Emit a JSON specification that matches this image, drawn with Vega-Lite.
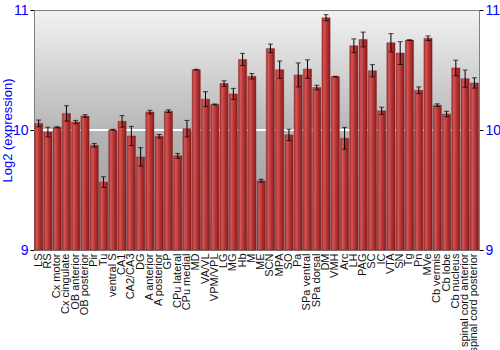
{
  "$schema": "https://vega.github.io/schema/vega-lite/v6.json",
  "width": 445,
  "height": 240,
  "autosize": {"type": "none"},
  "padding": {"left": 34, "top": 10, "right": 21, "bottom": 100},
  "background": "white",
  "config": {
    "font": "Liberation Sans",
    "view": {
      "stroke": "#808080",
      "strokeWidth": 1,
      "fill": {"gradient": "linear", "x1": 0, "y1": 0, "x2": 0, "y2": 1,
        "stops": [{"offset": 0, "color": "#f2f2f2"}, {"offset": 0.5, "color": "#b6b6b6"}, {"offset": 1, "color": "#969696"}]}
    }
  },
  "data": {"values": [
    {"region": "LS", "v": 10.055, "err": 0.028},
    {"region": "RS", "v": 9.983, "err": 0.04},
    {"region": "Cx motor", "v": 10.022, "err": 0.005},
    {"region": "Cx cingulate", "v": 10.138, "err": 0.064},
    {"region": "OB anterior", "v": 10.066, "err": 0.014},
    {"region": "OB posterior", "v": 10.116, "err": 0.011},
    {"region": "Pir", "v": 9.873, "err": 0.015},
    {"region": "Tu", "v": 9.566, "err": 0.044},
    {"region": "ventral S", "v": 10.003, "err": 0.003},
    {"region": "CA1", "v": 10.072, "err": 0.048},
    {"region": "CA2/CA3", "v": 9.95, "err": 0.08},
    {"region": "DG", "v": 9.776, "err": 0.077},
    {"region": "A anterior", "v": 10.149, "err": 0.015},
    {"region": "A posterior", "v": 9.948, "err": 0.015},
    {"region": "GP", "v": 10.157, "err": 0.011},
    {"region": "CPu lateral", "v": 9.785, "err": 0.02},
    {"region": "CPu medial", "v": 10.011, "err": 0.069},
    {"region": "MD", "v": 10.503, "err": 0.003},
    {"region": "VA/VL", "v": 10.257, "err": 0.062},
    {"region": "VPM/VPL", "v": 10.213, "err": 0.004},
    {"region": "LG", "v": 10.387, "err": 0.023},
    {"region": "MG", "v": 10.301, "err": 0.046},
    {"region": "Hb", "v": 10.588, "err": 0.051},
    {"region": "M", "v": 10.448, "err": 0.023},
    {"region": "ME", "v": 9.577, "err": 0.012},
    {"region": "SCN", "v": 10.68, "err": 0.036},
    {"region": "MPA", "v": 10.503, "err": 0.072},
    {"region": "SO", "v": 9.959, "err": 0.047},
    {"region": "Pa", "v": 10.459, "err": 0.1},
    {"region": "SPa ventral", "v": 10.508, "err": 0.077},
    {"region": "SPa dorsal", "v": 10.354, "err": 0.019},
    {"region": "DM", "v": 10.936, "err": 0.025},
    {"region": "VMH", "v": 10.445, "err": 0.003},
    {"region": "Arc", "v": 9.931, "err": 0.091},
    {"region": "LH", "v": 10.702, "err": 0.057},
    {"region": "PAG", "v": 10.754, "err": 0.062},
    {"region": "SC", "v": 10.494, "err": 0.051},
    {"region": "IC", "v": 10.16, "err": 0.03},
    {"region": "VTA", "v": 10.727, "err": 0.076},
    {"region": "SN", "v": 10.641, "err": 0.095},
    {"region": "Tg", "v": 10.749, "err": 0.003},
    {"region": "Pn", "v": 10.331, "err": 0.028},
    {"region": "MVe", "v": 10.765, "err": 0.019},
    {"region": "Cb vermis", "v": 10.207, "err": 0.011},
    {"region": "Cb lobe", "v": 10.133, "err": 0.023},
    {"region": "Cb nucleus", "v": 10.517, "err": 0.065},
    {"region": "spinal cord anterior", "v": 10.428, "err": 0.072},
    {"region": "spinal cord posterior", "v": 10.392, "err": 0.043}
  ]},
  "encoding": {
    "x": {"field": "region", "type": "nominal", "sort": null,
      "scale": {"paddingInner": 0.12, "paddingOuter": 0.06},
      "axis": {"title": null, "labelAngle": -90, "labelAlign": "right", "labelBaseline": "middle",
        "ticks": false, "domain": false, "labelPadding": 3, "labelFontSize": 11, "labelColor": "#111111"}}
  },
  "layer": [
    {
      "encoding": {
        "y": {"type": "quantitative", "scale": {"domain": [9, 11], "nice": false, "zero": false},
          "axis": {"title": "Log2 (expression)", "titleColor": "#0000ff", "titleFontSize": 13, "titleFontWeight": "normal",
            "values": [9, 10, 11], "labelExpr": "format(datum.value, '.0f')", "labelOverlap": false, "labelColor": "#0000ff", "labelFontSize": 14, "tickColor": "black", "tickSize": 4,
            "domainColor": "#808080", "grid": false, "titleX": -20}}
      },
      "layer": [
        {
          "mark": {"type": "rule", "color": "white", "strokeWidth": 1.5},
          "encoding": {"x": null, "y": {"datum": 10, "type": "quantitative", "title": "Log2 (expression)"}}
        },
        {
          "mark": {"type": "bar",
            "stroke": "#7a1a1a", "strokeWidth": 0.4,
            "color": {"gradient": "linear", "x1": 0, "x2": 1, "y1": 0, "y2": 0,
              "stops": [{"offset": 0, "color": "#a82c2c"}, {"offset": 0.25, "color": "#d25656"}, {"offset": 0.55, "color": "#b93636"}, {"offset": 1, "color": "#861c1c"}]}},
          "encoding": {
            "y": {"field": "v", "type": "quantitative", "title": "Log2 (expression)"},
            "y2": {"datum": 9}
          }
        },
        {
          "mark": {"type": "errorbar", "ticks": {"size": 5, "color": "black"}, "rule": {"color": "black", "strokeWidth": 1}},
          "encoding": {
            "y": {"field": "v", "type": "quantitative", "title": "Log2 (expression)"},
            "yError": {"field": "err"}
          }
        }
      ]
    },
    {
      "mark": {"type": "rule", "opacity": 0},
      "encoding": {
        "x": null,
        "y": {"datum": 10, "type": "quantitative", "scale": {"domain": [9, 11], "nice": false},
          "axis": {"orient": "right", "title": null, "values": [9, 10, 11], "labelExpr": "format(datum.value, '.0f')", "labelOverlap": false, "labelColor": "#0000ff", "labelFontSize": 14,
            "tickColor": "black", "tickSize": 4, "domainColor": "#808080", "grid": false}}
      }
    }
  ],
  "resolve": {"scale": {"y": "independent"}}
}
